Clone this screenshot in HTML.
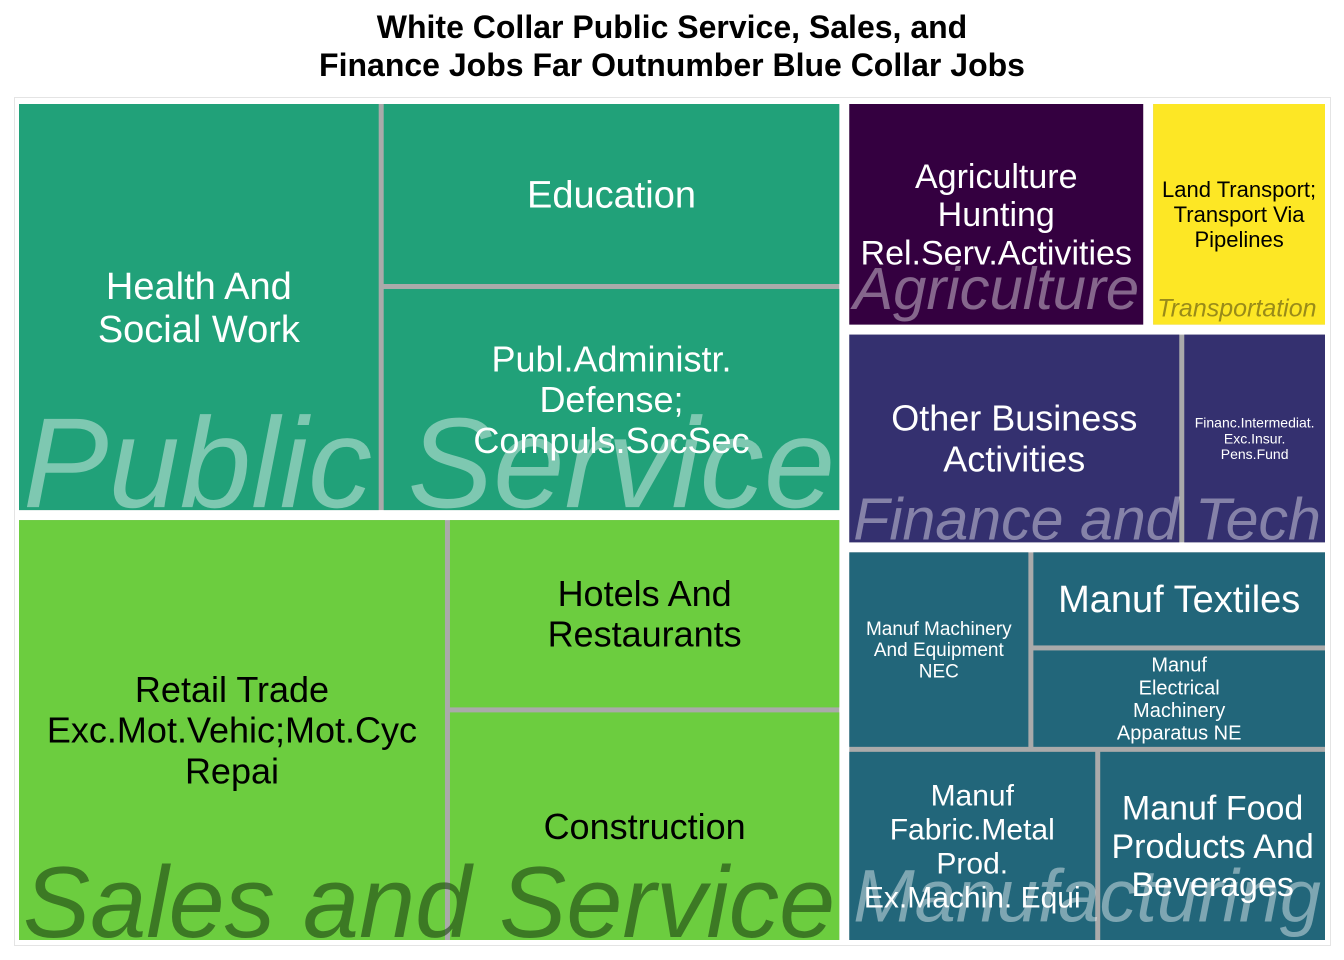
<!DOCTYPE html>
<html><head><meta charset="utf-8"><style>
html,body{margin:0;padding:0;background:#fff;}
body{width:1344px;height:960px;position:relative;overflow:hidden;font-family:"Liberation Sans",sans-serif;}
#title{position:absolute;left:0;top:8px;width:1344px;text-align:center;font-weight:bold;font-size:32px;line-height:38px;color:#000;}
</style></head><body>
<div id="title">White Collar Public Service, Sales, and<br>Finance Jobs Far Outnumber Blue Collar Jobs</div>
<svg id="chart" width="1344" height="960" style="position:absolute;left:0;top:0"></svg>
<script>
// data (thousands of jobs, estimated)
const labels = ["Health And|Social Work","Education","Publ.Administr.|Defense;|Compuls.SocSec","Retail Trade|Exc.Mot.Vehic;Mot.Cyc|Repai","Hotels And|Restaurants","Construction","Agriculture|Hunting|Rel.Serv.Activities","Land Transport;|Transport Via|Pipelines","Other Business|Activities","Financ.Intermediat.|Exc.Insur.|Pens.Fund","Manuf Machinery|And Equipment|NEC","Manuf Textiles","Manuf|Electrical|Machinery|Apparatus NE","Manuf|Fabric.Metal|Prod.|Ex.Machin. Equi","Manuf Food|Products And|Beverages"];
const values = [142.5,81,99.5,174.5,72,87.5,65,38,68,29,35,28,29,46.5,42.5];
const groups = ["Public Service","Public Service","Public Service","Sales and Service","Sales and Service","Sales and Service","Agriculture","Transportation","Finance and Tech","Finance and Tech","Manufacturing","Manufacturing","Manufacturing","Manufacturing","Manufacturing"];
const groupNames = ["Public Service","Sales and Service","Agriculture","Transportation","Finance and Tech","Manufacturing"];
const groupColors = ["#21a179","#6ccd3f","#340040","#fde725","#34306f","#22667a"];
const textColors = ["#fff","#000","#fff","#000","#fff","#fff"];
const groupTextColors = ["rgba(255,255,255,0.42)","rgba(30,70,20,0.62)","rgba(255,255,255,0.4)","rgba(110,100,20,0.7)","rgba(255,255,255,0.4)","rgba(255,255,255,0.42)"];
const leafFont = [38,38,36,36,36,36,34,22,36,14,19,38,20,30,34];

const G=10, L=5;
const tree = {d:"h",g:G,c:[
  {d:"v",g:G,c:[{grp:0,d:"h",g:L,c:[0,{d:"v",g:L,c:[1,2]}]},{grp:1,d:"h",g:L,c:[3,{d:"v",g:L,c:[4,5]}]}]},
  {d:"v",g:G,c:[{d:"h",g:G,c:[{grp:2,leaf:6},{grp:3,leaf:7}]},{grp:4,d:"h",g:L,c:[8,9]},
    {grp:5,d:"v",g:L,c:[{d:"h",g:L,c:[10,{d:"v",g:L,c:[11,12]}]},{d:"h",g:L,c:[13,14]}]}]}
]};
function sum(n){if(typeof n==="number")return values[n];if(n.leaf!==undefined)return values[n.leaf];return n.c.reduce((a,b)=>a+sum(b),0);}
const svg=document.getElementById('chart');const NS="http://www.w3.org/2000/svg";
function mk(t,a){const e=document.createElementNS(NS,t);for(const k in a)e.setAttribute(k,a[k]);return e;}
const bg=mk("rect",{x:14.5,y:97.5,width:1316,height:848,fill:"#fff",stroke:"#e4e4e4"});


svg.appendChild(bg);
const groupRects=[];const leafRects=[];
function lay(n,x,y,w,h){
  if(typeof n==="number"){leafRects[n]=[x,y,w,h];return;}
  if(n.leaf!==undefined){leafRects[n.leaf]=[x,y,w,h];groupRects[n.grp]=[x,y,w,h];return;}
  if(n.grp!==undefined)groupRects[n.grp]=[x,y,w,h];
  const tot=sum(n);const k=n.c.length;const avail=(n.d==="h"?w:h)-n.g*(k-1);let p=n.d==="h"?x:y;
  n.c.forEach(c=>{const s=avail*sum(c)/tot;if(n.d==="h")lay(c,p,y,s,h);else lay(c,x,p,w,s);p+=s+n.g;});
}
lay(tree,19,104,1306,836);
groupRects.forEach((r,i)=>{const e=mk("rect",{x:r[0],y:r[1],width:r[2],height:r[3],fill:"#aaa"});


svg.appendChild(e);});
leafRects.forEach((r,i)=>{
  const gi=groupNames.indexOf(groups[i]);
  const e=mk("rect",{x:r[0],y:r[1],width:r[2],height:r[3],fill:groupColors[gi]});
  
  
  svg.appendChild(e);
});
groupRects.forEach((r,i)=>{
  const name=groupNames[i];
  const t=mk("text",{x:r[0]+4,y:0,"font-size":100,"font-style":"italic",fill:groupTextColors[i],"font-family":"Liberation Sans, sans-serif"});
  t.textContent=name;
  
  
  svg.appendChild(t);
  const len=t.getComputedTextLength();
  let fs=100*(r[2]-8)/len;
  if(i===3)fs=Math.min(fs,25);
  t.setAttribute('font-size',fs);
  const desc=/[gpyqj]/.test(name);
  const by=r[1]+r[3]-(desc?0.21*fs+3:3);
  t.setAttribute('y',by);
});
leafRects.forEach((r,i)=>{
  const gi=groupNames.indexOf(groups[i]);
  const lines=labels[i].split('|');const fs=leafFont[i];const lh=fs*1.13;
  const cx=r[0]+r[2]/2,cy=r[1]+r[3]/2;
  const t=mk("text",{"text-anchor":"middle","font-size":fs,fill:textColors[gi],"font-family":"Liberation Sans, sans-serif"});
  lines.forEach((ln,j)=>{const s=mk("tspan",{x:cx,y:cy-(lines.length-1)*lh/2+j*lh+fs*0.35});s.textContent=ln;t.appendChild(s);});
  
  
  svg.appendChild(t);
});
</script>
</body></html>
